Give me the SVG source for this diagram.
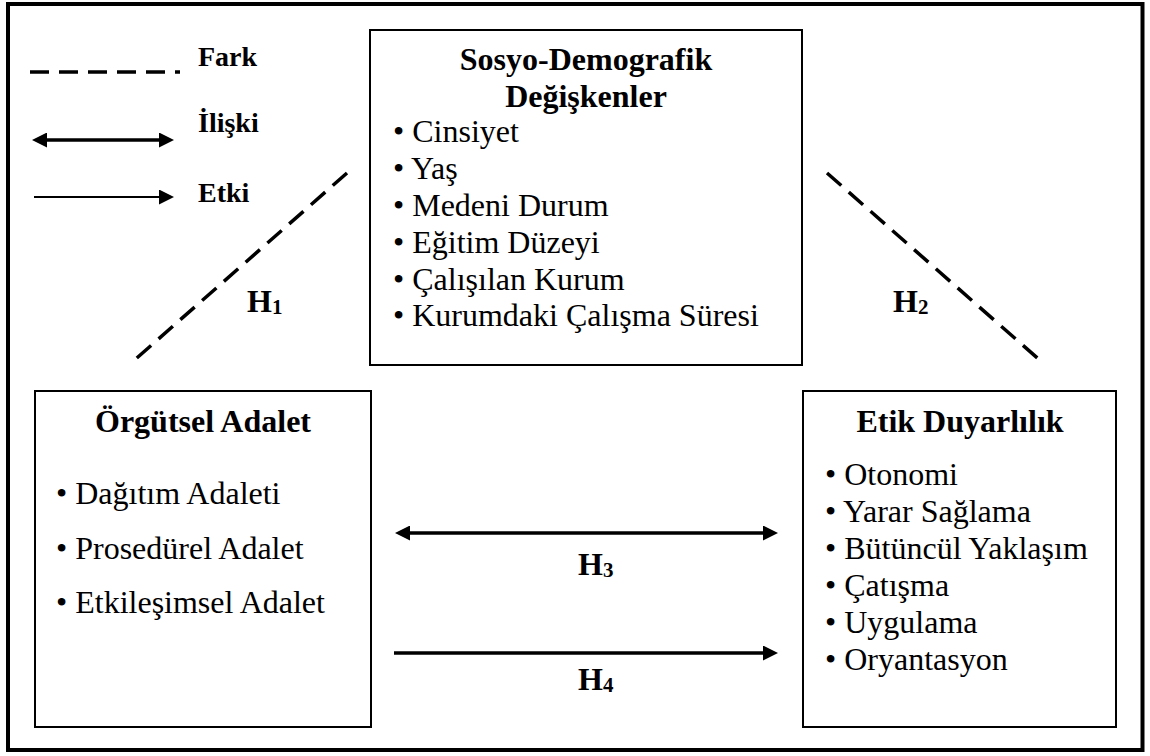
<svg xmlns="http://www.w3.org/2000/svg" width="1150" height="756" viewBox="0 0 1150 756">
  <style>
    .frame { fill: none; stroke: #000; stroke-width: 4; }
    .box { fill: #fff; stroke: #000; stroke-width: 2; }
    .title { font-family: "Liberation Serif", "Times New Roman", serif; font-weight: bold; font-size: 32px; fill: #000; text-anchor: middle; }
    .item { font-family: "Liberation Serif", "Times New Roman", serif; font-size: 32px; fill: #000; }
    .legend { font-family: "Liberation Serif", "Times New Roman", serif; font-weight: bold; font-size: 28px; fill: #000; }
    .hlabel { font-family: "Liberation Serif", "Times New Roman", serif; font-weight: bold; font-size: 32px; fill: #000; }
    .sub { font-size: 21px; }
    .dash { fill: none; stroke: #000; stroke-width: 3.5; stroke-dasharray: 19 10; }
    .arrow { fill: none; stroke: #000; stroke-width: 3.5; }
    .thin { fill: none; stroke: #000; stroke-width: 2.2; }
  </style>
  <defs>
    <marker id="ah" markerUnits="userSpaceOnUse" markerWidth="15" markerHeight="15" refX="2" refY="7.5" orient="auto-start-reverse">
      <path d="M0,0 L15,7.5 L0,15 z" fill="#000"/>
    </marker>
  </defs>

  <rect class="frame" x="8" y="4" width="1134.5" height="746"/>

  <g id="legend">
    <line class="dash" x1="30" y1="72" x2="180" y2="72"/>
    <text class="legend" x="198" y="66">Fark</text>
    <line class="arrow" x1="45" y1="140" x2="161" y2="140" marker-start="url(#ah)" marker-end="url(#ah)"/>
    <text class="legend" x="198" y="132">İlişki</text>
    <line class="thin" x1="34" y1="197" x2="161" y2="197" marker-end="url(#ah)"/>
    <text class="legend" x="198" y="202">Etki</text>
  </g>

  <g id="node-sosyo">
    <rect class="box" x="370" y="30" width="432" height="335"/>
    <text class="title" x="586" y="70">Sosyo-Demografik</text>
    <text class="title" x="586" y="107">Değişkenler</text>
    <text class="item" x="393" y="142">• Cinsiyet</text>
    <text class="item" x="393" y="179">• Yaş</text>
    <text class="item" x="393" y="216">• Medeni Durum</text>
    <text class="item" x="393" y="253">• Eğitim Düzeyi</text>
    <text class="item" x="393" y="290">• Çalışılan Kurum</text>
    <text class="item" x="393" y="326">• Kurumdaki Çalışma Süresi</text>
  </g>

  <g id="node-orgutsel">
    <rect class="box" x="35" y="391" width="336" height="336"/>
    <text class="title" x="203" y="432">Örgütsel Adalet</text>
    <text class="item" x="56" y="504">• Dağıtım Adaleti</text>
    <text class="item" x="56" y="559">• Prosedürel Adalet</text>
    <text class="item" x="56" y="613">• Etkileşimsel Adalet</text>
  </g>

  <g id="node-etik">
    <rect class="box" x="803" y="391" width="313" height="336"/>
    <text class="title" x="960" y="432">Etik Duyarlılık</text>
    <text class="item" x="825" y="485">• Otonomi</text>
    <text class="item" x="825" y="522">• Yarar Sağlama</text>
    <text class="item" x="825" y="559">• Bütüncül Yaklaşım</text>
    <text class="item" x="825" y="596">• Çatışma</text>
    <text class="item" x="825" y="633">• Uygulama</text>
    <text class="item" x="825" y="670">• Oryantasyon</text>
  </g>

  <g id="connectors">
    <line class="dash" x1="347" y1="173" x2="130" y2="364"/>
    <line class="dash" x1="827" y1="173" x2="1043" y2="363"/>
    <line class="arrow" x1="408" y1="533" x2="765" y2="533" marker-start="url(#ah)" marker-end="url(#ah)"/>
    <line class="arrow" x1="394" y1="653" x2="765" y2="653" marker-end="url(#ah)"/>
    <text class="hlabel" x="247" y="312">H<tspan class="sub" dy="2">1</tspan></text>
    <text class="hlabel" x="893" y="312">H<tspan class="sub" dy="2">2</tspan></text>
    <text class="hlabel" x="578" y="575">H<tspan class="sub" dy="2">3</tspan></text>
    <text class="hlabel" x="578" y="690">H<tspan class="sub" dy="2">4</tspan></text>
  </g>
</svg>
